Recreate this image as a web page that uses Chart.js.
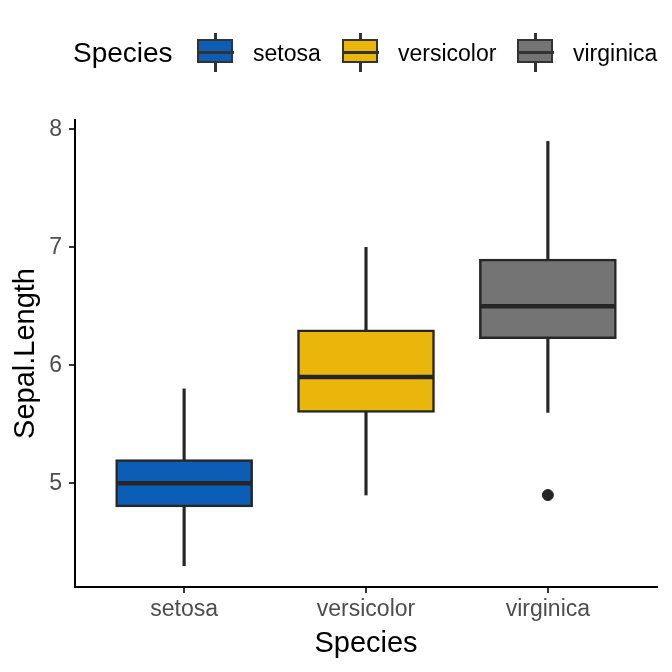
<!DOCTYPE html>
<html>
<head>
<meta charset="utf-8">
<script src="https://cdn.jsdelivr.net/npm/chart.js@4.4.0/dist/chart.umd.min.js"></script>
<style>
    body { margin: 0; background: #fff; font-family: "Liberation Sans", Arial, sans-serif; }
    #contenedor { position: relative; width: 672px; height: 672px; }
    #grafico { position: absolute; left: 0; top: 0; }
    .ley { position: absolute; white-space: nowrap; }
    .ley-titulo { font-size: 28px; color: #000; line-height: 34px; }
    .ley-texto { font-size: 23px; color: #000; line-height: 28px; }
    .clave { position: absolute; width: 37px; height: 39px; }
    .clave .bigote { position: absolute; left: 17px; top: 0; width: 3px; height: 39px; background: #333; }
    .clave .caja { position: absolute; left: 0; top: 6px; width: 32px; height: 20px; border: 2.5px solid #333; }
    .clave .med { position: absolute; left: 0; top: 17.5px; width: 37px; height: 3px; background: #333; }
</style>
</head>
<body>
<div id="contenedor">
    <canvas id="grafico" width="672" height="672"></canvas>
    <div id="leyenda"></div>
</div>
<script>
// datos del boxplot (Sepal.Length por especie)
const especies = ['setosa', 'versicolor', 'virginica'];
const minimos = [4.3, 4.9, 5.6];
const cuartil1 = [4.8, 5.6, 6.225];
const medianas = [5.0, 5.9, 6.5];
const cuartil3 = [5.2, 6.3, 6.9];
const maximos = [5.8, 7.0, 7.9];
const atipicoEspecie = [3];
const atipicoValor = [4.9];
const colores = ['#0C5DB5', '#EBB60B', '#747474'];
const ticksY = [5, 6, 7, 8];

const anchoCaja = 0.75;
const colorLinea = '#262626';

// leyenda en html
function armarLeyenda() {
    const cont = document.getElementById('leyenda');
    let html = '<div class="ley ley-titulo" style="left:73px;top:36px">Species</div>';
    const clavesX = [197, 342, 517];
    const textosX = [253, 398, 573];
    especies.forEach(function (e, i) {
        html += '<div class="clave" style="left:' + clavesX[i] + 'px;top:33px">' +
            '<div class="bigote"></div>' +
            '<div class="caja" style="background:' + colores[i] + '"></div>' +
            '<div class="med"></div></div>';
        html += '<div class="ley ley-texto" style="left:' + textosX[i] + 'px;top:39px">' + e + '</div>';
    });
    cont.innerHTML = html;
}

// linea de la mediana dibujada con las escalas del grafico
const pluginMediana = {
    id: 'mediana',
    afterDatasetsDraw(chart) {
        const ctx = chart.ctx;
        const xs = chart.scales.x;
        const ys = chart.scales.y;
        ctx.save();
        ctx.strokeStyle = colorLinea;
        ctx.lineWidth = 4.5;
        medianas.forEach(function (m, i) {
            const x0 = xs.getPixelForValue(i + 1 - anchoCaja / 2);
            const x1 = xs.getPixelForValue(i + 1 + anchoCaja / 2);
            const y = ys.getPixelForValue(m);
            ctx.beginPath();
            ctx.moveTo(x0 + 1, y);
            ctx.lineTo(x1 - 1, y);
            ctx.stroke();
        });
        ctx.restore();
    }
};

function cargarGrafico() {
    const ctx = document.getElementById('grafico').getContext('2d');

    const bigotes = especies.map((e, i) => ({ x: i + 1, y: [minimos[i], maximos[i]] }));
    const cajas = especies.map((e, i) => ({ x: i + 1, y: [cuartil1[i], cuartil3[i]] }));
    const puntos = atipicoEspecie.map((e, i) => ({ x: e, y: atipicoValor[i] }));

    const config = {
        type: 'bar',
        data: {
            datasets: [
                {
                    label: 'bigotes',
                    data: bigotes,
                    backgroundColor: colorLinea,
                    barThickness: 2.5,
                    grouped: false,
                    order: 3
                },
                {
                    label: 'cajas',
                    data: cajas,
                    backgroundColor: colores,
                    borderColor: colorLinea,
                    borderWidth: 2.5,
                    borderSkipped: false,
                    barThickness: 137,
                    grouped: false,
                    order: 2
                },
                {
                    type: 'scatter',
                    label: 'atipicos',
                    data: puntos,
                    backgroundColor: colorLinea,
                    borderColor: colorLinea,
                    pointRadius: 5.5,
                    order: 1
                }
            ]
        },
        plugins: [pluginMediana],
        options: {
            responsive: false,
            animation: false,
            layout: { padding: { top: 120, right: 15, left: 0, bottom: 0 } },
            plugins: {
                legend: { display: false },
                tooltip: { enabled: false }
            },
            scales: {
                x: {
                    type: 'linear',
                    min: 0.4,
                    max: 3.6,
                    offset: false,
                    afterBuildTicks: function (s) {
                        s.ticks = especies.map((e, i) => ({ value: i + 1 }));
                    },
                    afterFit: function (s) { s.height = 85; },
                    ticks: {
                        autoSkip: false,
                        maxRotation: 0,
                        color: '#4D4D4D',
                        font: { family: 'Liberation Sans', size: 23 },
                        padding: 3,
                        callback: function (v) { return especies[v - 1]; }
                    },
                    grid: { drawOnChartArea: false, offset: false, tickLength: 6, color: '#333', lineWidth: 2 },
                    border: { color: '#000', width: 2 },
                    title: {
                        display: true,
                        text: 'Species',
                        color: '#000',
                        font: { family: 'Liberation Sans', size: 29 },
                        padding: { top: 0, bottom: 11 }
                    }
                },
                y: {
                    min: 4.12,
                    max: 8.08,
                    afterBuildTicks: function (s) {
                        s.ticks = ticksY.map(v => ({ value: v }));
                    },
                    afterFit: function (s) { s.width = 75; },
                    ticks: {
                        color: '#4D4D4D',
                        font: { family: 'Liberation Sans', size: 23 },
                        padding: 7
                    },
                    grid: { drawOnChartArea: false, tickLength: 6, color: '#333', lineWidth: 2 },
                    border: { color: '#000', width: 2 },
                    title: {
                        display: true,
                        text: 'Sepal.Length',
                        color: '#000',
                        font: { family: 'Liberation Sans', size: 29 },
                        padding: { top: 9, bottom: 0 }
                    }
                }
            }
        }
    };

    new Chart(ctx, config);
}

armarLeyenda();
cargarGrafico();
</script>
</body>
</html>
